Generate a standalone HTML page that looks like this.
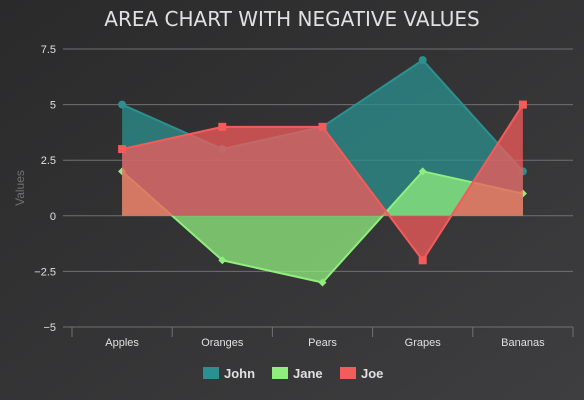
<!DOCTYPE html>
<html><head><meta charset="utf-8"><style>
html,body{margin:0;padding:0;background:#2a2a2b;}
svg{display:block;font-family:"Liberation Sans","DejaVu Sans",sans-serif;}
</style></head><body>
<svg width="584" height="400" xmlns="http://www.w3.org/2000/svg">
<defs><linearGradient id="bg" x1="0" y1="0" x2="1" y2="1"><stop offset="0" stop-color="#2a2a2b"/><stop offset="1" stop-color="#3e3e40"/></linearGradient></defs>
<rect width="584" height="400" fill="url(#bg)"/>
<text x="292" y="26" text-anchor="middle" fill="#E0E0E3" font-size="20" font-family="DejaVu Sans, sans-serif">AREA CHART WITH NEGATIVE VALUES</text>
<text transform="translate(24,188) rotate(-90)" text-anchor="middle" fill="#707073" font-size="12">Values</text>
<g id="grid"></g><g id="series"></g><g id="axes"></g>
<g id="legend"></g>
</svg>
<script>
const categories=['Apples','Oranges','Pears','Grapes','Bananas'];
const john=[5,3,4,7,2];
const jane=[2,-2,-3,2,1];
const joe=[3,4,4,-2,5];
const yTicks=[-5,-2.5,0,2.5,5,7.5];
const yTickLabels=['−5','−2.5','0','2.5','5','7.5'];
const NS='http://www.w3.org/2000/svg';
const L=72,R=573,T=49,B=327,yMin=-5,yMax=7.5;
const cw=(R-L)/categories.length;
function xs(i){return L+cw*(i+0.5);}
function ys(v){return B-(v-yMin)/(yMax-yMin)*(B-T);}
function mk(tag,attrs,parent){const e=document.createElementNS(NS,tag);for(const k in attrs)e.setAttribute(k,attrs[k]);parent.appendChild(e);return e;}
const grid=document.getElementById('grid'),axes=document.getElementById('axes'),ser=document.getElementById('series'),leg=document.getElementById('legend');
yTicks.forEach((t,i)=>{
  const y=ys(t);
  const ln=mk('line',{x1:63,x2:R,y1:y,y2:y,stroke:t===yMin?'#707073':'#707073','stroke-width':1},grid);
  
  
  const tx=mk('text',{x:56,y:y+4,'text-anchor':'end',fill:'#E0E0E3','font-size':11},axes);
  tx.textContent=yTickLabels[i];
  
  
});
for(let i=0;i<=categories.length;i++){
  const x=L+cw*i;
  const tk=mk('line',{x1:x,x2:x,y1:B,y2:B+10,stroke:'#707073'},axes);
  
  
}
categories.forEach((c,i)=>{
  const tx=mk('text',{x:xs(i),y:B+19,'text-anchor':'middle',fill:'#E0E0E3','font-size':11},axes);
  tx.textContent=c;
  
  
});
const series=[{name:'John',data:john,color:'#2b908f',m:'circle'},{name:'Jane',data:jane,color:'#90ee7e',m:'diamond'},{name:'Joe',data:joe,color:'#f45b5b',m:'square'}];
series.forEach(s=>{
  const g=mk('g',{},ser);
  
  
  const pts=s.data.map((v,i)=>[xs(i),ys(v)]);
  const line=pts.map((p,i)=>(i?'L':'M')+p[0]+','+p[1]).join(' ');
  const area=line+' L'+pts[pts.length-1][0]+','+ys(0)+' L'+pts[0][0]+','+ys(0)+' Z';
  const a=mk('path',{d:area,fill:s.color,'fill-opacity':0.75},g);
  
  
  const l=mk('path',{d:line,fill:'none',stroke:s.color,'stroke-width':2},g);
  
  
  pts.forEach(p=>{
    let m;
    if(s.m==='circle')m=mk('circle',{cx:p[0],cy:p[1],r:4,fill:s.color},g);
    else if(s.m==='square')m=mk('rect',{x:p[0]-4,y:p[1]-4,width:8,height:8,fill:s.color},g);
    else m=mk('path',{d:`M${p[0]},${p[1]-4}L${p[0]+4},${p[1]}L${p[0]},${p[1]+4}L${p[0]-4},${p[1]}Z`,fill:s.color},g);
    
    
  });
});
const lx=[203,272,340];
series.forEach((s,i)=>{
  const g=mk('g',{},leg);
  
  
  mk('rect',{x:lx[i],y:367,width:16,height:12,fill:s.color},g);
  const t=mk('text',{x:lx[i]+21,y:378,fill:'#E0E0E3','font-size':13,'font-weight':'bold'},g);
  t.textContent=s.name;
});
</script>
</body></html>
